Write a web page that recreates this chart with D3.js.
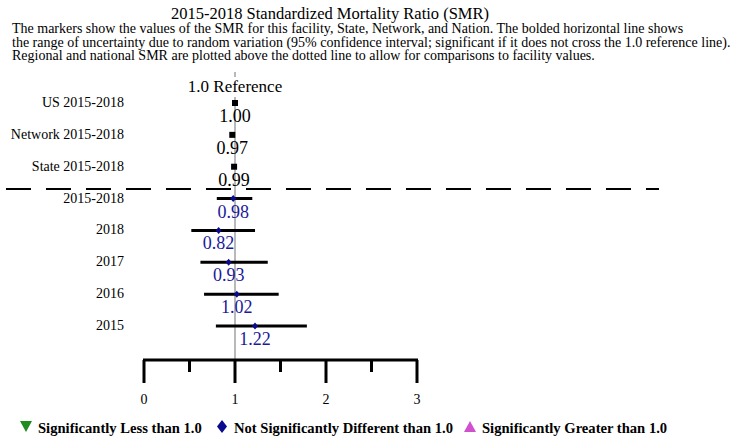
<!DOCTYPE html>
<html>
<head>
<meta charset="utf-8">
<script src="https://cdn.jsdelivr.net/npm/d3@7"></script>
<style>
  body { margin: 0; background: #fff; }
  svg { display: block; font-family: "Liberation Serif", "Times New Roman", serif; }
</style>
</head>
<body>
<svg id="chart" width="735" height="438"></svg>
<script>
// SMR forest plot

const titleText = "2015-2018 Standardized Mortality Ratio (SMR)";
const subtitleLines = [
  "The markers show the values of the SMR for this facility, State, Network, and Nation. The bolded horizontal line shows",
  "the range of uncertainty due to random variation (95% confidence interval; significant if it does not cross the 1.0 reference line).",
  "Regional and national SMR are plotted above the dotted line to allow for comparisons to facility values."
];

// comparison rows (above dashed line)
const refLabels = ["US 2015-2018", "Network 2015-2018", "State 2015-2018"];
const refValues = [1.00, 0.97, 0.99];

// facility rows (below dashed line)
const facLabels = ["2015-2018", "2018", "2017", "2016", "2015"];
const facValues = [0.98, 0.82, 0.93, 1.02, 1.22];
const facLower = [0.80, 0.52, 0.62, 0.66, 0.79];
const facUpper = [1.19, 1.22, 1.36, 1.48, 1.79];
const facSignif = ["none", "none", "none", "none", "none"];

const majorTicks = [0, 1, 2, 3];
const minorTicks = [0.5, 1.5, 2.5];

const legendItems = [
  { key: "less", label: "Significantly Less than 1.0", color: "#1e8c1e" },
  { key: "none", label: "Not Significantly Different than 1.0", color: "#0a0a8c" },
  { key: "greater", label: "Significantly Greater than 1.0", color: "#d050d0" }
];

const svg = d3.select("#chart");

const x = d3.scaleLinear().domain([0, 3]).range([144, 417]);
const allLabels = refLabels.concat(facLabels);
const y = d3.scalePoint().domain(allLabels).range([103, 326]);
const axisY = 360;
const dashY = 189;

// title + notes
svg.append("text")
  .attr("x", 330).attr("y", 19)
  .attr("text-anchor", "middle")
  .style("font-size", "16.5px")
  .text(titleText);

svg.selectAll(".sub")
  .data(subtitleLines)
  .enter().append("text")
  .attr("class", "sub")
  .attr("x", 12)
  .attr("y", (d, i) => 33 + i * 13.5)
  .style("font-size", "14px")
  .text(d => d);

// reference line at 1.0
svg.append("line")
  .attr("x1", x(1)).attr("x2", x(1))
  .attr("y1", 72).attr("y2", axisY)
  .attr("stroke", "#8a8a8a")
  .attr("stroke-width", 1.2);

svg.append("rect")
  .attr("x", x(1) - 52).attr("y", 77)
  .attr("width", 104).attr("height", 20)
  .attr("fill", "#fff");

svg.append("text")
  .attr("x", x(1)).attr("y", 92)
  .attr("text-anchor", "middle")
  .style("font-size", "17px")
  .text("1.0 Reference");

// dashed separator
svg.append("line")
  .attr("x1", 6).attr("x2", 659)
  .attr("y1", dashY).attr("y2", dashY)
  .attr("stroke", "#000")
  .attr("stroke-width", 2)
  .attr("stroke-dasharray", "25,15");

// row labels
svg.selectAll(".row-label")
  .data(allLabels)
  .enter().append("text")
  .attr("class", "row-label")
  .attr("x", 124)
  .attr("y", d => y(d) + 4)
  .attr("text-anchor", "end")
  .style("font-size", "14px")
  .text(d => d);

// comparison markers
const refRows = refLabels.map((l, i) => ({ label: l, value: refValues[i] }));
svg.selectAll(".ref-pt")
  .data(refRows)
  .enter().append("rect")
  .attr("class", "ref-pt")
  .attr("x", d => x(d.value) - 3)
  .attr("y", d => y(d.label) - 3)
  .attr("width", 6).attr("height", 6)
  .attr("fill", "#000");

svg.selectAll(".ref-val")
  .data(refRows)
  .enter().append("text")
  .attr("class", "ref-val")
  .attr("x", d => x(d.value))
  .attr("y", d => y(d.label) + 19)
  .attr("text-anchor", "middle")
  .style("font-size", "18px")
  .text(d => d.value.toFixed(2));

// facility CI bars + markers
const facRows = facLabels.map((l, i) => ({
  label: l, value: facValues[i], lo: facLower[i], hi: facUpper[i], sig: facSignif[i]
}));

svg.selectAll(".ci")
  .data(facRows)
  .enter().append("line")
  .attr("class", "ci")
  .attr("x1", d => x(d.lo)).attr("x2", d => x(d.hi))
  .attr("y1", d => y(d.label)).attr("y2", d => y(d.label))
  .attr("stroke", "#000")
  .attr("stroke-width", 3);

const colorOf = k => legendItems.find(l => l.key === k).color;

svg.selectAll(".fac-pt")
  .data(facRows)
  .enter().append("path")
  .attr("class", "fac-pt")
  .attr("transform", d => `translate(${x(d.value)},${y(d.label)})`)
  .attr("d", "M0,-3.5L3,0L0,3.5L-3,0Z")
  .attr("fill", d => colorOf(d.sig));

svg.selectAll(".fac-val")
  .data(facRows)
  .enter().append("text")
  .attr("class", "fac-val")
  .attr("x", d => x(d.value))
  .attr("y", d => y(d.label) + 19)
  .attr("text-anchor", "middle")
  .attr("fill", "#1a1a9a")
  .style("font-size", "18px")
  .text(d => d.value.toFixed(2));

// x axis (ticks drawn downward from the line)
const axis = svg.append("g").attr("class", "x-axis");
axis.append("line")
  .attr("x1", x(0) - 1).attr("x2", x(3) + 1)
  .attr("y1", axisY).attr("y2", axisY)
  .attr("stroke", "#000").attr("stroke-width", 3);

axis.selectAll(".major")
  .data(majorTicks)
  .enter().append("line")
  .attr("x1", d => x(d)).attr("x2", d => x(d))
  .attr("y1", axisY).attr("y2", 383)
  .attr("stroke", "#000").attr("stroke-width", 3);

axis.selectAll(".minor")
  .data(minorTicks)
  .enter().append("line")
  .attr("x1", d => x(d)).attr("x2", d => x(d))
  .attr("y1", axisY).attr("y2", 372)
  .attr("stroke", "#000").attr("stroke-width", 3);

axis.selectAll(".tick-label")
  .data(majorTicks)
  .enter().append("text")
  .attr("x", d => x(d))
  .attr("y", 404)
  .attr("text-anchor", "middle")
  .style("font-size", "14px")
  .text(d => d);

// legend
const legendX = [26, 222, 470];
const leg = svg.selectAll(".legend-item")
  .data(legendItems)
  .enter().append("g")
  .attr("class", "legend-item")
  .attr("transform", (d, i) => `translate(${legendX[i]},428)`);

leg.append("path")
  .attr("d", d => d.key === "less" ? "M-6,-7L6,-7L0,4Z"
    : d.key === "none" ? "M0,-8L5,-1.5L0,5L-5,-1.5Z"
    : "M-6,4L6,4L0,-7Z")
  .attr("fill", d => d.color);

leg.append("text")
  .attr("x", 12)
  .attr("y", 5)
  .style("font-size", "14.6px")
  .style("font-weight", "bold")
  .text(d => d.label);
</script>
</body>
</html>
